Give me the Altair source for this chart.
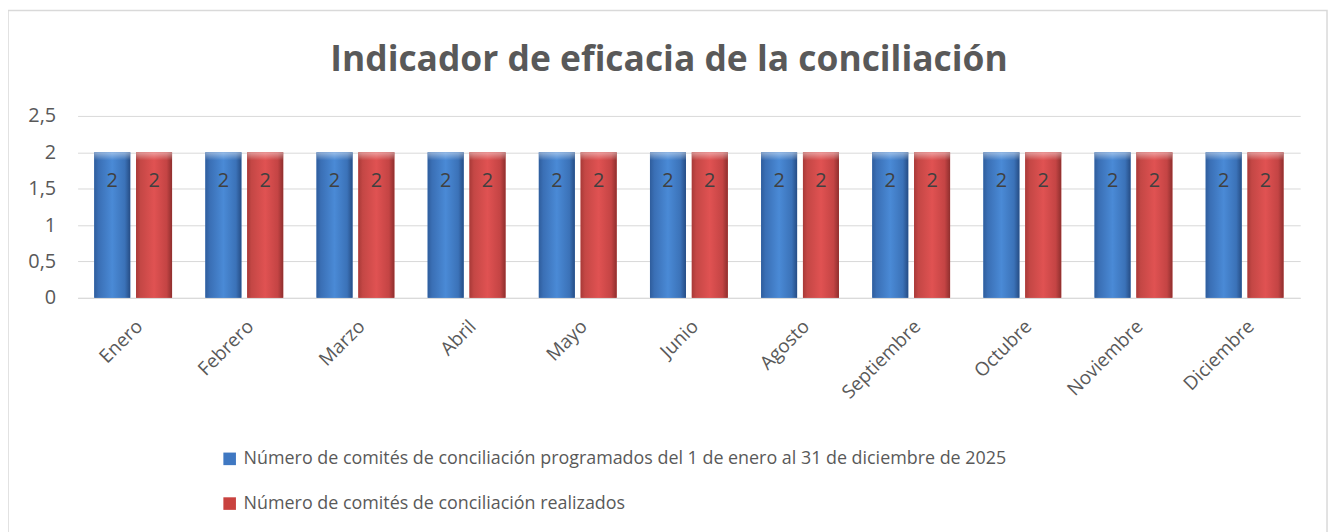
import altair as alt
import pandas as pd

months = ["Enero", "Febrero", "Marzo", "Abril", "Mayo", "Junio", "Agosto",
          "Septiembre", "Octubre", "Noviembre", "Diciembre"]
programados = [2, 2, 2, 2, 2, 2, 2, 2, 2, 2, 2]
realizados = [2, 2, 2, 2, 2, 2, 2, 2, 2, 2, 2]
series_names = [
    "Número de comités de conciliación programados del 1 de enero al 31 de diciembre de 2025",
    "Número de comités de conciliación realizados",
]
title_text = "Indicador de eficacia de la conciliación"
y_ticks = [0, 0.5, 1, 1.5, 2, 2.5]

rows = []
for m, a, b in zip(months, programados, realizados):
    rows.append({"mes": m, "serie": series_names[0], "valor": a})
    rows.append({"mes": m, "serie": series_names[1], "valor": b})
df = pd.DataFrame(rows)

FONT = "Open Sans"
GRAY = "#595959"

x_enc = alt.X("mes:N", sort=months,
              scale=alt.Scale(paddingInner=0.3, paddingOuter=0.15),
              axis=alt.Axis(title=None, labelAngle=-45, labelAlign="right",
                            labelBaseline="top", labelPadding=19, ticks=False,
                            domainColor="#d9d9d9", labelFontSize=19,
                            labelColor=GRAY, labelFont=FONT))
xoff = alt.XOffset("serie:N", sort=series_names,
                   scale=alt.Scale(paddingInner=0.14, paddingOuter=0))
y_enc = alt.Y("valor:Q", scale=alt.Scale(domain=[0, 2.5], nice=False),
              axis=alt.Axis(title=None, values=y_ticks, domain=False, ticks=False,
                            gridColor="#d9d9d9", labelPadding=22,
                            labelFontSize=20, labelColor=GRAY, labelFont=FONT,
                            labelExpr="replace(toString(datum.value), '.', ',')"))

base = alt.Chart(df)

flat = base.mark_bar().encode(
    x=x_enc, xOffset=xoff, y=y_enc,
    color=alt.Color("serie:N", sort=series_names,
                    scale=alt.Scale(domain=series_names, range=["#3f78c2", "#c9423f"]),
                    legend=alt.Legend(title=None, orient="none", legendX=144, legendY=336,
                                      direction="vertical", symbolType="square",
                                      symbolSize=160, rowPadding=27, labelOffset=5,
                                      labelFontSize=18, labelColor=GRAY, labelFont=FONT,
                                      labelLimit=0, symbolStrokeWidth=0)),
)

def grad(stops, vertical=False):
    if vertical:
        return alt.Gradient(gradient="linear", x1=0, x2=0, y1=0, y2=1,
                            stops=[alt.GradientStop(color=c, offset=o) for o, c in stops])
    return alt.Gradient(gradient="linear", x1=0, x2=1, y1=0, y2=0,
                        stops=[alt.GradientStop(color=c, offset=o) for o, c in stops])

blue_grad = grad([(0, "#2f5d9c"), (0.12, "#3a6fb5"), (0.5, "#4a8ad6"), (0.85, "#3b72b8"), (1, "#264d85")])
red_grad = grad([(0, "#a83a38"), (0.12, "#c44745"), (0.5, "#e05252"), (0.85, "#c44444"), (1, "#8f2f2e")])
cap_grad = grad([(0, "rgba(255,255,255,0.45)"), (1, "rgba(255,255,255,0)")], vertical=True)

blue_bars = base.transform_filter(alt.datum.serie == series_names[0]).mark_bar(
    color=blue_grad).encode(x=x_enc, xOffset=xoff, y=y_enc)
red_bars = base.transform_filter(alt.datum.serie == series_names[1]).mark_bar(
    color=red_grad).encode(x=x_enc, xOffset=xoff, y=y_enc)

caps = base.transform_calculate(cap="datum.valor - 0.11").mark_bar(
    color=cap_grad).encode(x=x_enc, xOffset=xoff, y=y_enc, y2="cap:Q")

labels = base.mark_text(dy=29, fontSize=20, color="#404040", font=FONT,
                        baseline="middle").encode(
    x=x_enc, xOffset=xoff, y=y_enc, text=alt.Text("valor:Q"))

border = alt.Chart(pd.DataFrame({"k": [0]})).mark_rect(
    fillOpacity=0, stroke="#d9d9d9", strokeWidth=1.5).encode(
    x=alt.value(-70), x2=alt.value(1257), y=alt.value(-106), y2=alt.value(430))

title = alt.Chart(pd.DataFrame({"t": [title_text]})).mark_text(
    font=FONT, fontSize=35.6, fontWeight="bold", color=GRAY,
    align="center", baseline="alphabetic").encode(
    text="t:N", x=alt.value(595), y=alt.value(-45))

chart = alt.layer(border, title, flat, blue_bars, red_bars, caps, labels).properties(
    width=1230, height=183,
    autosize=alt.AutoSizeParams(type="none"),
    padding={"left": 70, "top": 107, "right": 30, "bottom": 234},
).configure_view(stroke=None)

chart.save("out.html", embed_options={"renderer": "svg", "actions": False})
